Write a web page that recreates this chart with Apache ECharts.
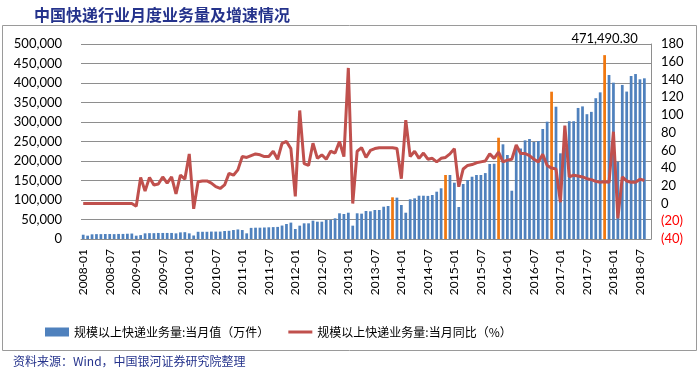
<!DOCTYPE html>
<html>
<head>
<meta charset="utf-8">
<script src="https://cdn.jsdelivr.net/npm/echarts@6/dist/echarts.min.js"></script>
<style>html,body{margin:0;padding:0;background:#fff;}#c{width:699px;height:375px;}</style>
</head>
<body>
<div id="c"></div>
<script>
// ---- categories (monthly) ----
const categories = [
 '2008-01','2008-02','2008-03','2008-04','2008-05','2008-06','2008-07','2008-08','2008-09','2008-10','2008-11','2008-12',
 '2009-01','2009-02','2009-03','2009-04','2009-05','2009-06','2009-07','2009-08','2009-09','2009-10','2009-11','2009-12',
 '2010-01','2010-02','2010-03','2010-04','2010-05','2010-06','2010-07','2010-08','2010-09','2010-10','2010-11','2010-12',
 '2011-01','2011-02','2011-03','2011-04','2011-05','2011-06','2011-07','2011-08','2011-09','2011-10','2011-11','2011-12',
 '2012-01','2012-02','2012-03','2012-04','2012-05','2012-06','2012-07','2012-08','2012-09','2012-10','2012-11','2012-12',
 '2013-01','2013-02','2013-03','2013-04','2013-05','2013-06','2013-07','2013-08','2013-09','2013-10','2013-11','2013-12',
 '2014-01','2014-02','2014-03','2014-04','2014-05','2014-06','2014-07','2014-08','2014-09','2014-10','2014-11','2014-12',
 '2015-01','2015-02','2015-03','2015-04','2015-05','2015-06','2015-07','2015-08','2015-09','2015-10','2015-11','2015-12',
 '2016-01','2016-02','2016-03','2016-04','2016-05','2016-06','2016-07','2016-08','2016-09','2016-10','2016-11','2016-12',
 '2017-01','2017-02','2017-03','2017-04','2017-05','2017-06','2017-07','2017-08','2017-09','2017-10','2017-11','2017-12',
 '2018-01','2018-02','2018-03','2018-04','2018-05','2018-06','2018-07','2018-08','2018-09'
];

// ---- 规模以上快递业务量:当月值（万件） ----
const vol2008 = [11000, 8500, 12000, 12500, 12500, 12800, 12800, 12500, 13000, 13000, 13500, 14000];
const vol2009 = [8500, 10000, 14500, 15000, 15000, 15500, 15500, 15500, 15500, 14500, 17000, 17500];
const vol2010 = [14500, 9000, 18500, 18500, 18500, 19000, 19000, 19000, 20500, 21000, 23000, 24500];
const vol2011 = [23000, 14500, 28500, 29000, 29000, 29500, 30000, 30500, 31000, 34500, 38500, 42000];
const vol2012 = [25600, 34200, 40200, 40200, 47000, 44400, 44400, 48700, 49000, 53000, 65900, 64100];
const vol2013 = [67400, 34200, 65900, 65000, 71800, 71000, 74400, 74400, 82800, 84600, 106900, 106000];
const vol2014 = [87200, 67400, 101800, 104300, 111000, 111000, 110500, 112800, 121300, 130000, 164100, 164100];
const vol2015 = [144400, 82000, 141000, 151300, 159700, 164100, 164100, 169000, 192300, 193000, 259700, 242800];
const vol2016 = [215400, 123800, 237500, 232000, 253000, 256400, 248700, 251300, 282000, 300800, 377700, 339200];
const vol2017 = [219700, 235000, 302000, 302000, 336000, 340000, 320000, 326000, 361000, 376000, 471490.3, 420500];
const vol2018 = [400800, 198000, 395000, 378000, 418000, 423000, 409500, 412000, null];

// ---- 规模以上快递业务量:当月同比（%） ----
const yoy2008 = [0, 0, 0, 0, 0, 0, 0, 0, 0, 0, 0, 0];
const yoy2009 = [-3, 29.5, 14, 29.5, 21, 22, 30, 23, 30, 11, 32, 27.5];
const yoy2010 = [56, -6, 24.5, 25.5, 25.5, 23, 19, 17, 21, 34, 32, 38];
const yoy2011 = [53, 52, 54, 56, 55, 53, 53, 59, 50, 68, 70, 62];
const yoy2012 = [8, 105, 45, 43, 68, 51, 55, 50, 59, 57, 70, 53];
const yoy2013 = [153, 0, 59, 63, 52, 60, 62, 63, 63, 63, 63, 62];
const yoy2014 = [28, 94, 53, 59, 51, 57, 50, 51, 47, 51, 52, 56];
const yoy2015 = [62, 19, 39, 43, 44, 46, 47, 48, 56, 51, 58, 47];
const yoy2016 = [49, 50, 66, 56.5, 56.5, 54, 50, 47, 55.5, 43, 40, 39];
const yoy2017 = [1.5, 88, 30, 32, 31, 30, 28, 27, 25, 24, 24.5, 24];
const yoy2018 = [81, -16.7, 30, 25.5, 24, 24, 27.5, 26, null];

// ---- highlighted months (双十一) and annotation ----
const highlightMonths = ['2013-11', '2014-11', '2015-11', '2016-11', '2017-11'];
const annotatedMonth = '2017-11';
const annotationText = '471,490.30';

// ---- axis ticks ----
const leftTicks = {min: 0, max: 500000, interval: 50000};
const rightTicks = {min: -40, max: 180, interval: 20};

const seriesNames = ['规模以上快递业务量:当月值（万件）', '规模以上快递业务量:当月同比（%）'];

const volume = [].concat(vol2008, vol2009, vol2010, vol2011, vol2012, vol2013, vol2014, vol2015, vol2016, vol2017, vol2018);
const yoy = [].concat(yoy2008, yoy2009, yoy2010, yoy2011, yoy2012, yoy2013, yoy2014, yoy2015, yoy2016, yoy2017, yoy2018);

const BLUE = '#4F81BD', ORANGE = '#F07810', RED = '#C0504D', GRID = '#8E8E8E';
const AXFONT = 'Lato';

const barData = volume.map((v, i) => {
  const c = categories[i];
  const item = {value: v};
  if (highlightMonths.includes(c)) item.itemStyle = {color: ORANGE};
  if (c === annotatedMonth) item.label = {show: true, position: 'top', distance: 10, formatter: annotationText,
    color: '#000', fontSize: 13, fontFamily: AXFONT};
  return item;
});

const fmt = v => String(v).replace(/\B(?=(\d{3})+(?!\d))/g, ',');

const chart = echarts.init(document.getElementById('c'), null, {renderer: 'canvas'});
chart.setOption({
  animation: false,
  backgroundColor: '#fff',
  title: {
    text: '中国快递行业月度业务量及增速情况', left: 29, top: 2,
    textStyle: {fontSize: 16, fontWeight: 'bold', color: '#25338C', fontFamily: 'Noto Sans CJK SC'}
  },
  graphic: [
    {type: 'rect', shape: {x: 2.5, y: 25.5, width: 694, height: 325}, style: {fill: 'none', stroke: '#9a9a9a', lineWidth: 1}, silent: true, z: -1},
    {type: 'text', left: 13, top: 355, style: {text: '资料来源：Wind，中国银河证券研究院整理', fill: '#25338C', font: '12px "Noto Sans CJK SC"'}}
  ],
  legend: {
    left: 40, top: 321, itemWidth: 24, itemHeight: 9, itemGap: 19,
    textStyle: {fontSize: 12, color: '#000', fontFamily: 'Noto Sans CJK SC'},
    data: [
      {name: seriesNames[0], icon: 'rect'},
      {name: seriesNames[1], icon: 'path://M0,0H24V3H0Z', itemStyle: {color: RED, borderWidth: 0}}
    ]
  },
  grid: {left: 81, right: 48, top: 44, bottom: 136},
  xAxis: {
    type: 'category', data: categories, boundaryGap: true,
    axisLine: {lineStyle: {color: GRID, width: 1}},
    axisTick: {show: false},
    axisLabel: {rotate: 90, interval: 5, margin: 10, fontSize: 12, color: '#000', fontFamily: AXFONT}
  },
  yAxis: [
    {
      type: 'value', position: 'left', min: leftTicks.min, max: leftTicks.max, interval: leftTicks.interval,
      axisLine: {show: false}, axisTick: {show: false},
      splitLine: {lineStyle: {color: GRID, width: 1}},
      axisLabel: {fontSize: 13, color: '#000', margin: 19, fontFamily: AXFONT, formatter: v => fmt(v)}
    },
    {
      type: 'value', position: 'right', min: rightTicks.min, max: rightTicks.max, interval: rightTicks.interval,
      axisLine: {show: true, lineStyle: {color: GRID}}, axisTick: {show: false},
      splitLine: {show: false},
      axisLabel: {fontSize: 13, color: '#000', margin: 10, fontFamily: AXFONT,
        formatter: v => v < 0 ? '{neg|(' + (-v) + ')}' : String(v),
        rich: {neg: {color: '#FF0000', fontSize: 13, fontFamily: AXFONT}}}
    }
  ],
  series: [
    {name: seriesNames[0], type: 'bar', yAxisIndex: 0, data: barData, barWidth: '62%',
      itemStyle: {color: BLUE}, z: 2},
    {name: seriesNames[1], type: 'line', yAxisIndex: 1, data: yoy, symbol: 'none', showSymbol: false,
      lineStyle: {color: RED, width: 3}, itemStyle: {color: RED}, z: 3}
  ]
});
</script>
</body>
</html>
